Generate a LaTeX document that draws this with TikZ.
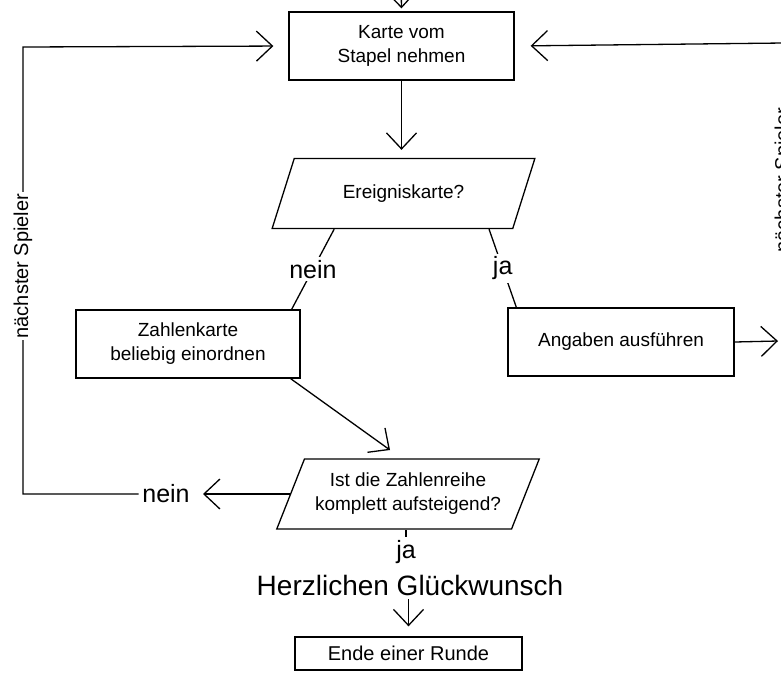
\documentclass[tikz,border=0pt]{standalone}
\usepackage{fontspec}
\setmainfont{Liberation Sans}
\usetikzlibrary{shapes.geometric}
\usetikzlibrary{calc}
\usetikzlibrary{arrows.meta}

\begin{document}
\begin{tikzpicture}[x=1pt, y=-1pt, line width=1.3pt]
        % ================= 样式定义 =================
        \tikzset{
            % 方框:黑边
            kasten/.style={rectangle, draw=black, minimum width=225pt, minimum height=68pt,
                align=center, font=\fontsize{19}{24}\selectfont},
            % 判断:平行四边形
            raute/.style={trapezium, trapezium left angle=62, trapezium right angle=118,
                trapezium stretches=true, draw=black, minimum width=263pt, minimum height=70pt,
                align=center, font=\fontsize{19}{24}\selectfont},
            % 箭头:开口
            pfeil/.style={-{Straight Barb[length=16pt, width=30pt]}},
            % 标签:ja / nein
            marke/.style={fill=white, inner sep=3pt, font=\fontsize{25}{28}\selectfont},
            % 竖排文字
            seite/.style={fill=white, inner sep=2pt, rotate=90, font=\fontsize{20}{24}\selectfont}
        }

        \useasboundingbox (0,0) rectangle (781,672);
        \clip (0,0) rectangle (781,672);

        % ================= 1. 节点 =================
        \node[kasten] (karte) at (401.5, 46) {Karte vom\\Stapel nehmen};
        \node[raute] (ereig) at (403.5, 193.5) {Ereigniskarte?};
        \node[kasten, minimum width=224pt] (zahl) at (188, 344) {Zahlenkarte\\beliebig einordnen};
        \node[kasten, minimum width=226pt] (angaben) at (621, 342) {Angaben ausführen};
        \node[raute] (ist) at (408, 494) {Ist die Zahlenreihe\\komplett aufsteigend?};
        \node[marke] (ja2) at (406, 552) {ja};
        \node[anchor=base, font=\fontsize{28}{32}\selectfont] (glueck) at (410, 595) {Herzlichen Glückwunsch};
        \node[kasten, minimum width=227pt, minimum height=33pt, font=\fontsize{20}{24}\selectfont] (ende) at (408.5, 653.5) {Ende einer Runde};
        \node[marke] (nein2) at (166, 494) {nein};

        % Hilfspunkte
        \coordinate (start) at (401, -30);
        \coordinate (lu) at (23, 494);
        \coordinate (lo) at (23, 47);
        \coordinate (ru) at (784, 341);
        \coordinate (ro) at (784, 43);
        \coordinate (rpfeil) at (778, 341);
        \coordinate (npfeil) at (203, 494);
        \coordinate (zpfeil) at (390, 450);

        % ================= 2. 主流程 =================
        \draw[pfeil, shorten >=3pt] (start) -- (karte.north);
        \draw[pfeil, shorten >=8pt] (karte.south) -- (karte.south |- ereig.north);

        \draw ($(ereig.bottom left corner)!0.26!(ereig.bottom right corner)$)
            -- node[marke] {nein} ($(zahl.north east)+(-9,0)$);
        \draw ($(ereig.bottom left corner)!0.9!(ereig.bottom right corner)$)
            -- node[marke] {ja} ($(angaben.north west)+(9,0)$);

        \draw[pfeil] ($(zahl.south east)+(-10,0)$) -- (zpfeil);
        \draw[pfeil] (angaben.east) -- (rpfeil);

        \draw (ja2.north) -- (ja2.north |- ist.south);
        \draw[pfeil, shorten >=10pt] (ende.north |- glueck.south) -- (ende.north);

        % ================= 3. 回到下一位玩家 =================
        \draw[pfeil] (ist.left side) -- (npfeil);
        \draw[pfeil, shorten >=15pt] (nein2.west) -- (lu)
            -- node[seite, pos=0.51] {nächster Spieler} (lo) -- (karte.west);
        \draw[pfeil, shorten >=16pt] (ru)
            -- node[seite, pos=0.54] {nächster Spieler} (ro) -- (karte.east);

\end{tikzpicture}
\end{document}
